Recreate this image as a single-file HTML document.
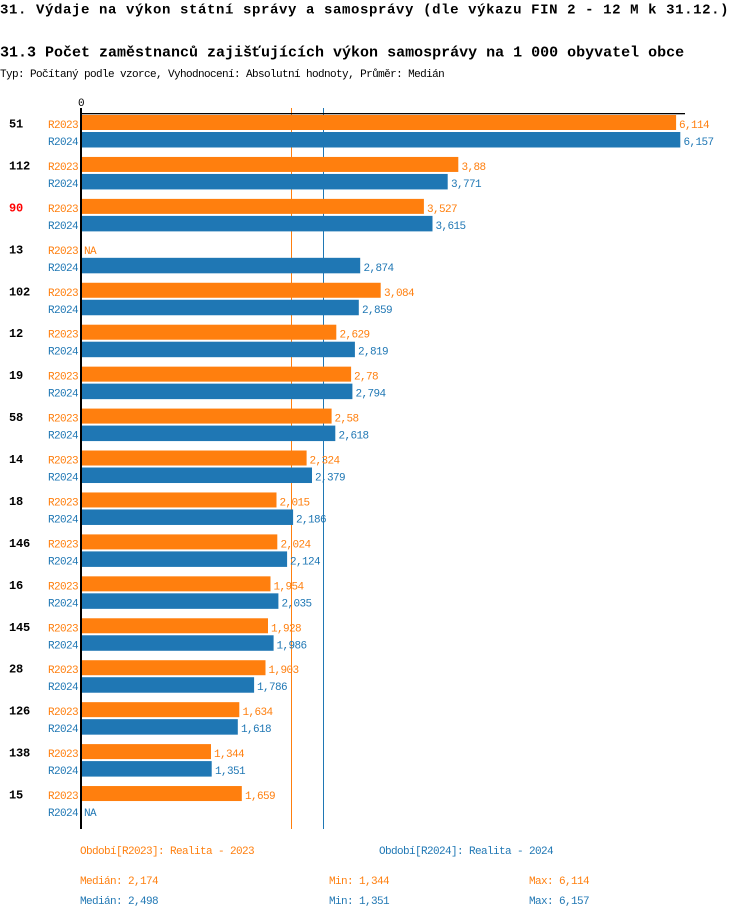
<!DOCTYPE html>
<html>
<head>
<meta charset="utf-8">
<style>
html,body{margin:0;padding:0;background:#fff;}
svg{display:block;}
text{font-family:"Liberation Mono","DejaVu Sans Mono",monospace;}
.t1{font-size:14px;font-weight:bold;letter-spacing:0.6px;fill:#000;}
.t2{font-size:15px;font-weight:bold;fill:#000;}
.s{font-size:11px;letter-spacing:-0.6px;}
.g{font-size:12px;font-weight:bold;letter-spacing:-0.2px;fill:#000;}
.o{fill:#ff7f0e;}
.b{fill:#1f77b4;}
</style>
</head>
<body>
<svg width="750" height="918" viewBox="0 0 750 918" xmlns="http://www.w3.org/2000/svg">
<text class="t1" x="0" y="13.5">31. Výdaje na výkon státní správy a samosprávy (dle výkazu FIN 2 - 12 M k 31.12.)</text>
<text class="t2" x="0" y="56.5">31.3 Počet zaměstnanců zajišťujících výkon samosprávy na 1 000 obyvatel obce</text>
<text class="s" x="0" y="77" fill="#000">Typ: Počítaný podle vzorce, Vyhodnocení: Absolutní hodnoty, Průměr: Medián</text>

<text class="s" x="81" y="106" text-anchor="middle" fill="#000">0</text>

<!-- median lines -->
<rect x="291" y="108" width="1" height="721" fill="#ff7f0e"/>
<rect x="323" y="108" width="1" height="721" fill="#1f77b4"/>

<!-- groups -->
<g transform="translate(0,0)">
<text class="g" x="9" y="127.5">51</text>
<text class="s o" x="78" y="128" text-anchor="end">R2023</text>
<rect x="80" y="115" width="596.1" height="15" fill="#ff7f0e"/>
<text class="s o" x="679" y="128">6,114</text>
<text class="s b" x="78" y="145" text-anchor="end">R2024</text>
<rect x="80" y="132" width="600.3" height="15.5" fill="#1f77b4"/>
<text class="s b" x="683.5" y="145">6,157</text>
</g>

<g transform="translate(0,41.94)">
<text class="g" x="9" y="127.5">112</text>
<text class="s o" x="78" y="128" text-anchor="end">R2023</text>
<rect x="80" y="115" width="378.3" height="15" fill="#ff7f0e"/>
<text class="s o" x="461.5" y="128">3,88</text>
<text class="s b" x="78" y="145" text-anchor="end">R2024</text>
<rect x="80" y="132" width="367.7" height="15.5" fill="#1f77b4"/>
<text class="s b" x="451" y="145">3,771</text>
</g>

<g transform="translate(0,83.88)">
<text class="g" x="9" y="127.5" fill="#ff0000" style="fill:#ff0000">90</text>
<text class="s o" x="78" y="128" text-anchor="end">R2023</text>
<rect x="80" y="115" width="343.9" height="15" fill="#ff7f0e"/>
<text class="s o" x="427" y="128">3,527</text>
<text class="s b" x="78" y="145" text-anchor="end">R2024</text>
<rect x="80" y="132" width="352.5" height="15.5" fill="#1f77b4"/>
<text class="s b" x="435.5" y="145">3,615</text>
</g>

<g transform="translate(0,125.82)">
<text class="g" x="9" y="127.5">13</text>
<text class="s o" x="78" y="128" text-anchor="end">R2023</text>
<text class="s o" x="84" y="128">NA</text>
<text class="s b" x="78" y="145" text-anchor="end">R2024</text>
<rect x="80" y="132" width="280.2" height="15.5" fill="#1f77b4"/>
<text class="s b" x="363.5" y="145">2,874</text>
</g>

<g transform="translate(0,167.76)">
<text class="g" x="9" y="127.5">102</text>
<text class="s o" x="78" y="128" text-anchor="end">R2023</text>
<rect x="80" y="115" width="300.7" height="15" fill="#ff7f0e"/>
<text class="s o" x="384" y="128">3,084</text>
<text class="s b" x="78" y="145" text-anchor="end">R2024</text>
<rect x="80" y="132" width="278.8" height="15.5" fill="#1f77b4"/>
<text class="s b" x="362" y="145">2,859</text>
</g>

<g transform="translate(0,209.7)">
<text class="g" x="9" y="127.5">12</text>
<text class="s o" x="78" y="128" text-anchor="end">R2023</text>
<rect x="80" y="115" width="256.3" height="15" fill="#ff7f0e"/>
<text class="s o" x="339.5" y="128">2,629</text>
<text class="s b" x="78" y="145" text-anchor="end">R2024</text>
<rect x="80" y="132" width="274.9" height="15.5" fill="#1f77b4"/>
<text class="s b" x="358" y="145">2,819</text>
</g>

<g transform="translate(0,251.64)">
<text class="g" x="9" y="127.5">19</text>
<text class="s o" x="78" y="128" text-anchor="end">R2023</text>
<rect x="80" y="115" width="271.1" height="15" fill="#ff7f0e"/>
<text class="s o" x="354" y="128">2,78</text>
<text class="s b" x="78" y="145" text-anchor="end">R2024</text>
<rect x="80" y="132" width="272.4" height="15.5" fill="#1f77b4"/>
<text class="s b" x="355.5" y="145">2,794</text>
</g>

<g transform="translate(0,293.58)">
<text class="g" x="9" y="127.5">58</text>
<text class="s o" x="78" y="128" text-anchor="end">R2023</text>
<rect x="80" y="115" width="251.6" height="15" fill="#ff7f0e"/>
<text class="s o" x="334.5" y="128">2,58</text>
<text class="s b" x="78" y="145" text-anchor="end">R2024</text>
<rect x="80" y="132" width="255.3" height="15.5" fill="#1f77b4"/>
<text class="s b" x="338.5" y="145">2,618</text>
</g>

<g transform="translate(0,335.52)">
<text class="g" x="9" y="127.5">14</text>
<text class="s o" x="78" y="128" text-anchor="end">R2023</text>
<rect x="80" y="115" width="226.6" height="15" fill="#ff7f0e"/>
<text class="s o" x="309.5" y="128">2,324</text>
<text class="s b" x="78" y="145" text-anchor="end">R2024</text>
<rect x="80" y="132" width="232" height="15.5" fill="#1f77b4"/>
<text class="s b" x="315" y="145">2,379</text>
</g>

<g transform="translate(0,377.46)">
<text class="g" x="9" y="127.5">18</text>
<text class="s o" x="78" y="128" text-anchor="end">R2023</text>
<rect x="80" y="115" width="196.5" height="15" fill="#ff7f0e"/>
<text class="s o" x="279.5" y="128">2,015</text>
<text class="s b" x="78" y="145" text-anchor="end">R2024</text>
<rect x="80" y="132" width="213.1" height="15.5" fill="#1f77b4"/>
<text class="s b" x="296" y="145">2,186</text>
</g>

<g transform="translate(0,419.4)">
<text class="g" x="9" y="127.5">146</text>
<text class="s o" x="78" y="128" text-anchor="end">R2023</text>
<rect x="80" y="115" width="197.3" height="15" fill="#ff7f0e"/>
<text class="s o" x="280.5" y="128">2,024</text>
<text class="s b" x="78" y="145" text-anchor="end">R2024</text>
<rect x="80" y="132" width="207.1" height="15.5" fill="#1f77b4"/>
<text class="s b" x="290" y="145">2,124</text>
</g>

<g transform="translate(0,461.34)">
<text class="g" x="9" y="127.5">16</text>
<text class="s o" x="78" y="128" text-anchor="end">R2023</text>
<rect x="80" y="115" width="190.5" height="15" fill="#ff7f0e"/>
<text class="s o" x="273.5" y="128">1,954</text>
<text class="s b" x="78" y="145" text-anchor="end">R2024</text>
<rect x="80" y="132" width="198.4" height="15.5" fill="#1f77b4"/>
<text class="s b" x="281.5" y="145">2,035</text>
</g>

<g transform="translate(0,503.28)">
<text class="g" x="9" y="127.5">145</text>
<text class="s o" x="78" y="128" text-anchor="end">R2023</text>
<rect x="80" y="115" width="188" height="15" fill="#ff7f0e"/>
<text class="s o" x="271" y="128">1,928</text>
<text class="s b" x="78" y="145" text-anchor="end">R2024</text>
<rect x="80" y="132" width="193.6" height="15.5" fill="#1f77b4"/>
<text class="s b" x="276.5" y="145">1,986</text>
</g>

<g transform="translate(0,545.22)">
<text class="g" x="9" y="127.5">28</text>
<text class="s o" x="78" y="128" text-anchor="end">R2023</text>
<rect x="80" y="115" width="185.5" height="15" fill="#ff7f0e"/>
<text class="s o" x="268.5" y="128">1,903</text>
<text class="s b" x="78" y="145" text-anchor="end">R2024</text>
<rect x="80" y="132" width="174.1" height="15.5" fill="#1f77b4"/>
<text class="s b" x="257" y="145">1,786</text>
</g>

<g transform="translate(0,587.16)">
<text class="g" x="9" y="127.5">126</text>
<text class="s o" x="78" y="128" text-anchor="end">R2023</text>
<rect x="80" y="115" width="159.3" height="15" fill="#ff7f0e"/>
<text class="s o" x="242.5" y="128">1,634</text>
<text class="s b" x="78" y="145" text-anchor="end">R2024</text>
<rect x="80" y="132" width="157.8" height="15.5" fill="#1f77b4"/>
<text class="s b" x="241" y="145">1,618</text>
</g>

<g transform="translate(0,629.1)">
<text class="g" x="9" y="127.5">138</text>
<text class="s o" x="78" y="128" text-anchor="end">R2023</text>
<rect x="80" y="115" width="131" height="15" fill="#ff7f0e"/>
<text class="s o" x="214" y="128">1,344</text>
<text class="s b" x="78" y="145" text-anchor="end">R2024</text>
<rect x="80" y="132" width="131.7" height="15.5" fill="#1f77b4"/>
<text class="s b" x="215" y="145">1,351</text>
</g>

<g transform="translate(0,671.04)">
<text class="g" x="9" y="127.5">15</text>
<text class="s o" x="78" y="128" text-anchor="end">R2023</text>
<rect x="80" y="115" width="161.8" height="15" fill="#ff7f0e"/>
<text class="s o" x="245" y="128">1,659</text>
<text class="s b" x="78" y="145" text-anchor="end">R2024</text>
<text class="s b" x="84" y="145">NA</text>
</g>

<!-- axes -->
<rect x="80" y="113" width="605" height="1.3" fill="#000"/>
<rect x="80" y="108" width="2" height="721" fill="#000"/>

<!-- legend -->
<text class="s o" x="80" y="854">Období[R2023]: Realita - 2023</text>
<text class="s b" x="379" y="854">Období[R2024]: Realita - 2024</text>
<text class="s o" x="80" y="884">Medián: 2,174</text>
<text class="s o" x="329" y="884">Min: 1,344</text>
<text class="s o" x="529" y="884">Max: 6,114</text>
<text class="s b" x="80" y="904">Medián: 2,498</text>
<text class="s b" x="329" y="904">Min: 1,351</text>
<text class="s b" x="529" y="904">Max: 6,157</text>
</svg>
</body>
</html>
